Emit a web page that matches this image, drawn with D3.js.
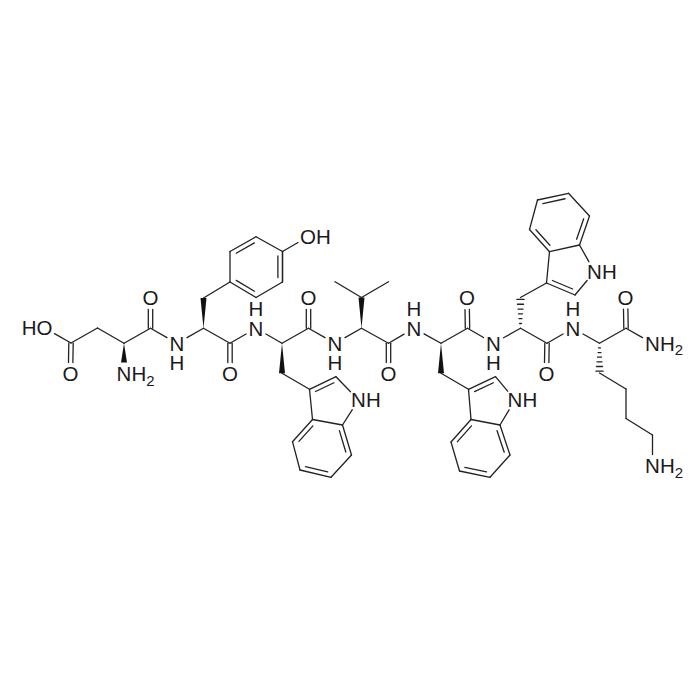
<!DOCTYPE html>
<html>
<head>
<meta charset="utf-8">
<script src="https://cdn.jsdelivr.net/npm/d3@7"></script>
<style>
  html, body { margin: 0; padding: 0; background: #fff; }
  svg { display: block; }
  text { font-family: "Liberation Sans", Arial, sans-serif; fill: #1a1a1a; }
</style>
</head>
<body>
<div id="chart"></div>
<script>
// atoms, as parallel lists
var atomIds = [
    "oh1", "c1", "o1", "c2", "ca1", "n1", "c3", "o2",
    "n2", "ca2", "cb2", "c4", "o3",
    "y1", "y2", "y3", "y4", "y5", "y6", "oh2",
    "n3", "ca3", "c5", "o4", "cb3",
    "wa3", "wa2", "wa1", "wa7a", "wa3a", "wa4", "wa5", "wa6", "wa7",
    "n4", "ca4", "cb4", "me1", "me2", "c6", "o5",
    "n5", "ca5", "c7", "o6", "cb5",
    "wb3", "wb2", "wb1", "wb7a", "wb3a", "wb4", "wb5", "wb6", "wb7",
    "n6", "ca6", "cb6", "c8", "o7",
    "wc3", "wc2", "wc1", "wc7a", "wc3a", "wc4", "wc5", "wc6", "wc7",
    "n7", "ca7", "c9", "o8", "n8", "cb7", "cg7", "cd7", "ce7", "n9"
];
var atomX = [
    44.5, 71, 70.5, 97.5, 124, 124, 150.5, 150.5,
    177, 203.5, 203.5, 230, 230,
    230, 230, 256, 282.5, 282.5, 256, 308,
    256, 282, 308.5, 308.5, 282,
    309.5, 336, 358.5, 342.5, 312.5, 292.5, 300, 331, 351.5,
    335, 361.5, 361.5, 335, 388.5, 388.5, 388.5,
    414, 441, 467.5, 467, 441,
    468.5, 495.5, 515, 500, 471, 451, 459.5, 490, 510,
    493.5, 520.5, 520.5, 547, 546.5,
    546.5, 575, 594.5, 579.5, 549.5, 529.5, 537.5, 568.5, 589.5,
    573, 599.5, 626, 625.5, 652.5, 599.5, 626, 626, 652.5, 652.5
];
var atomY = [
    328, 343, 374, 328, 343.3, 374, 328.3, 298,
    343.3, 328.3, 298, 343.3, 374,
    282, 251.5, 236.7, 251.5, 282, 297.5, 236.7,
    328.3, 343.3, 328.3, 298, 373.3,
    389.3, 376.7, 400, 425, 419.5, 441.7, 470, 477.3, 455,
    343.3, 328.3, 297.5, 281.7, 281.7, 343.3, 374,
    328.3, 343.3, 328.3, 298, 373.3,
    389.3, 376.7, 400, 425, 419.5, 442, 471, 477.3, 455,
    343.3, 328.3, 297.5, 343.3, 374,
    283, 295, 271.7, 245, 251.7, 229.5, 200, 193.3, 216,
    328.3, 343.3, 328.3, 297.5, 343.3, 373, 389, 418.5, 435, 466
];

var singleBonds = [
    ["oh1", "c1"], ["c1", "c2"], ["c2", "ca1"], ["ca1", "c3"], ["c3", "n2"], ["n2", "ca2"],
    ["ca2", "c4"], ["c4", "n3"], ["cb2", "y1"], ["y5", "y4"], ["y4", "oh2"],
    ["n3", "ca3"], ["ca3", "c5"], ["c5", "n4"], ["cb3", "wa3"], ["wa2", "wa1"], ["wa1", "wa7a"],
    ["wa3", "wa3a"], ["wa7a", "wa3a"],
    ["n4", "ca4"], ["ca4", "c6"], ["cb4", "me1"], ["cb4", "me2"], ["c6", "n5"],
    ["n5", "ca5"], ["ca5", "c7"], ["c7", "n6"], ["cb5", "wb3"], ["wb2", "wb1"], ["wb1", "wb7a"],
    ["wb3", "wb3a"], ["wb7a", "wb3a"],
    ["n6", "ca6"], ["ca6", "c8"], ["c8", "n7"], ["cb6", "wc3"], ["wc2", "wc1"], ["wc1", "wc7a"],
    ["wc3", "wc3a"], ["wc7a", "wc3a"],
    ["n7", "ca7"], ["ca7", "c9"], ["c9", "n8"], ["cb7", "cg7"], ["cg7", "cd7"], ["cd7", "ce7"], ["ce7", "n9"]
];
// C=O, two lines either side of the bond
var carbonylBonds = [
    ["c1", "o1"], ["c3", "o2"], ["c4", "o3"], ["c5", "o4"], ["c6", "o5"],
    ["c7", "o6"], ["c8", "o7"], ["c9", "o8"]
];
var ringSingleBonds = [
    ["y1", "y2"], ["y3", "y4"], ["y5", "y6"],
    ["wa4", "wa5"], ["wa6", "wa7"],
    ["wb4", "wb5"], ["wb6", "wb7"],
    ["wc4", "wc5"], ["wc6", "wc7"]
];
// ring doubles: [from, to, atom on the inner side]
var ringDoubleBonds = [
    ["y2", "y3", "y5"], ["y4", "y5", "y2"], ["y6", "y1", "y3"],
    ["wa3a", "wa4", "wa6"], ["wa5", "wa6", "wa3a"], ["wa7", "wa7a", "wa5"], ["wa3", "wa2", "wa1"],
    ["wb3a", "wb4", "wb6"], ["wb5", "wb6", "wb3a"], ["wb7", "wb7a", "wb5"], ["wb3", "wb2", "wb1"],
    ["wc3a", "wc4", "wc6"], ["wc5", "wc6", "wc3a"], ["wc7", "wc7a", "wc5"], ["wc3", "wc2", "wc1"]
];
var wedgeBonds = [["ca1", "n1"], ["ca2", "cb2"], ["ca3", "cb3"], ["ca4", "cb4"], ["ca5", "cb5"]];
var hashBonds = [["ca6", "cb6"], ["ca7", "cb7"]];

// label per heteroatom: atom, main text, subscript, H below (1) or above (-1)
var labelAtoms = ["oh1", "o1", "n1", "o2", "n2", "o3", "oh2", "n3", "o4", "wa1", "n4", "o5", "n5", "o6", "wb1", "n6", "o7", "wc1", "n7", "o8", "n8", "n9"];
var labelText = ["HO", "O", "NH", "O", "N", "O", "OH", "N", "O", "NH", "N", "O", "N", "O", "NH", "N", "O", "NH", "N", "O", "NH", "NH"];
var labelSub = ["", "", "2", "", "", "", "", "", "", "", "", "", "", "", "", "", "", "", "", "", "2", "2"];
var labelH = [0, 0, 0, 0, 1, 0, 0, -1, 0, 0, 1, 0, -1, 0, 0, 1, 0, 0, -1, 0, 0, 0];

var width = 696, height = 698;
var bondColor = "#222", bondWidth = 1.3, fontSize = 20.5;

var x = d3.scaleLinear().domain([0, 696]).range([0, width]);
var y = d3.scaleLinear().domain([0, 698]).range([0, height]);

var atoms = {};
atomIds.forEach(function (id, i) {
    atoms[id] = {x: x(atomX[i]), y: y(atomY[i])};
});

var hasLabel = {};
labelAtoms.forEach(function (id) { hasLabel[id] = true; });

var svg = d3.select("#chart").append("svg")
    .attr("width", width)
    .attr("height", height);

svg.append("rect").attr("width", width).attr("height", height).attr("fill", "#fff");

function trimmed(b) {
    // stop the bond short of any text sitting on its atoms
    var a = atoms[b[0]], c = atoms[b[1]];
    var dx = c.x - a.x, dy = c.y - a.y, len = Math.sqrt(dx * dx + dy * dy);
    var ux = dx / len, uy = dy / len;
    var s = hasLabel[b[0]] ? 11.5 : 0, e = hasLabel[b[1]] ? 11.5 : 0;
    return {x1: a.x + ux * s, y1: a.y + uy * s, x2: c.x - ux * e, y2: c.y - uy * e, ux: ux, uy: uy};
}

function drawLines(cls, rows) {
    svg.append("g").attr("class", cls)
        .selectAll("line")
        .data(rows)
        .join("line")
        .attr("x1", function (d) { return d.x1; })
        .attr("y1", function (d) { return d.y1; })
        .attr("x2", function (d) { return d.x2; })
        .attr("y2", function (d) { return d.y2; })
        .attr("stroke", bondColor)
        .attr("stroke-width", bondWidth)
        .attr("stroke-linecap", "round");
}

drawLines("single", singleBonds.concat(ringSingleBonds).map(trimmed));

// carbonyls
var carbonylLines = [];
carbonylBonds.forEach(function (b) {
    var t = trimmed(b), off = 2.2;
    [-1, 1].forEach(function (side) {
        carbonylLines.push({
            x1: t.x1 - t.uy * off * side, y1: t.y1 + t.ux * off * side,
            x2: t.x2 - t.uy * off * side, y2: t.y2 + t.ux * off * side
        });
    });
});
drawLines("carbonyl", carbonylLines);

// ring doubles: outer bond plus a shorter line on the inside
var ringLines = [];
ringDoubleBonds.forEach(function (b) {
    var t = trimmed(b), inner = atoms[b[2]], off = 4.6, cut = 4.5;
    var nx = -t.uy, ny = t.ux;
    if ((inner.x - t.x1) * nx + (inner.y - t.y1) * ny < 0) { nx = -nx; ny = -ny; }
    ringLines.push(t);
    ringLines.push({
        x1: t.x1 + nx * off + t.ux * cut, y1: t.y1 + ny * off + t.uy * cut,
        x2: t.x2 + nx * off - t.ux * cut, y2: t.y2 + ny * off - t.uy * cut
    });
});
drawLines("ring-double", ringLines);

// solid wedges, narrow end on the stereo centre
svg.append("g").attr("class", "wedge")
    .selectAll("path")
    .data(wedgeBonds.map(trimmed))
    .join("path")
    .attr("d", function (d) {
        var w = 3;
        return "M" + d.x1 + "," + d.y1 +
            "L" + (d.x2 - d.uy * w) + "," + (d.y2 + d.ux * w) +
            "L" + (d.x2 + d.uy * w) + "," + (d.y2 - d.ux * w) + "Z";
    })
    .attr("fill", "#111");

// hashed wedges
var hashLines = [];
hashBonds.forEach(function (b) {
    var t = trimmed(b);
    d3.range(1, 7).forEach(function (i) {
        var f = i / 6.4, w = 0.4 + 3.4 * f;
        var cx = t.x1 + (t.x2 - t.x1) * f, cy = t.y1 + (t.y2 - t.y1) * f;
        hashLines.push({x1: cx - t.uy * w, y1: cy + t.ux * w, x2: cx + t.uy * w, y2: cy - t.ux * w});
    });
});
drawLines("hash", hashLines);

// atom labels, the amide H goes in the same text as its N
var labelRows = labelAtoms.map(function (id, i) {
    return {atom: atoms[id], text: labelText[i], sub: labelSub[i], h: labelH[i]};
});

function labelX(d) {
    // first letter is centred on the atom, HO hangs off to the left
    if (d.text === "HO") return d.atom.x + 8;
    if (d.text === "OH" || d.text === "O") return d.atom.x - 8;
    return d.atom.x - 7.4;
}

var labels = svg.append("g").attr("class", "labels")
    .selectAll("text")
    .data(labelRows)
    .join("text")
    .attr("font-size", fontSize)
    .attr("y", function (d) { return d.atom.y + fontSize * 0.36; })
    .attr("x", labelX)
    .attr("text-anchor", function (d) { return d.text === "HO" ? "end" : "start"; });

labels.append("tspan").text(function (d) { return d.text; });

labels.filter(function (d) { return d.sub; })
    .append("tspan")
    .attr("font-size", 15)
    .attr("dy", 4.5)
    .text(function (d) { return d.sub; });

labels.filter(function (d) { return d.h !== 0; })
    .append("tspan")
    .attr("x", labelX)
    .attr("dy", function (d) { return d.h * 19.3; })
    .text("H");
</script>
</body>
</html>
